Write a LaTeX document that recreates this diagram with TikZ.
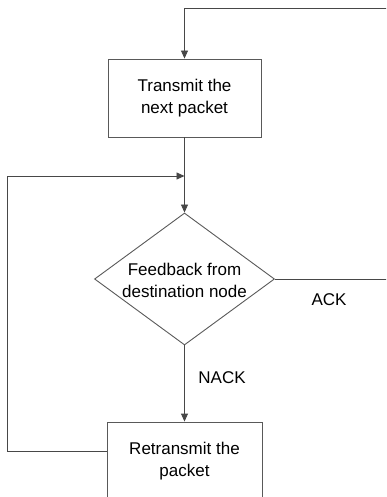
\documentclass[tikz,border=0pt]{standalone}
\usepackage{fontspec}
\setmainfont{Liberation Sans}
\usetikzlibrary{shapes.geometric,arrows.meta}
\begin{document}
\begin{tikzpicture}[x=1bp,y=-1bp,
  line/.style={draw=black!72,line width=0.9bp},
  arr/.style={line,-{Triangle[length=8bp,width=7bp]}},
  box/.style={draw=black!65,line width=0.9bp,minimum width=153bp,minimum height=78bp,inner sep=0pt,align=center,font=\fontsize{17bp}{22bp}\selectfont},
  decision/.style={diamond,draw=black!65,line width=0.9bp,minimum width=180bp,minimum height=132bp,inner sep=0pt},
  txt/.style={align=center,font=\fontsize{17bp}{22bp}\selectfont,inner sep=0pt}]
\useasboundingbox (0,0) rectangle (386,497);
\begin{scope}
\clip (0,0) rectangle (386,497);
\node[box] (t) at (184.5,98) {Transmit the\\next packet};
\node[decision] (d) at (184.5,279) {};
\node[txt] (dt) at (184.5,280) {Feedback from\\destination node};
\node[box,minimum width=155bp] (b) at (184.5,461) {Retransmit the\\packet};
\coordinate (topR) at (420,8);
\coordinate (ackR) at (420,279);
\coordinate (loopL) at (7,176);
\coordinate (join) at (t.south |- loopL);
\draw[arr] (t.south) -- (d.north);
\draw[arr] ([yshift=10bp]b.west) -| (loopL) -- (join);
\draw[arr] (d.east) -- (ackR) -- (topR) -| (t.north);
\draw[arr] (d.south) -- (b.north);
\node[txt] (ack) at (329,300) {ACK};
\node[txt] (nack) at (222,378) {NACK};
\end{scope}
\end{tikzpicture}
\end{document}
